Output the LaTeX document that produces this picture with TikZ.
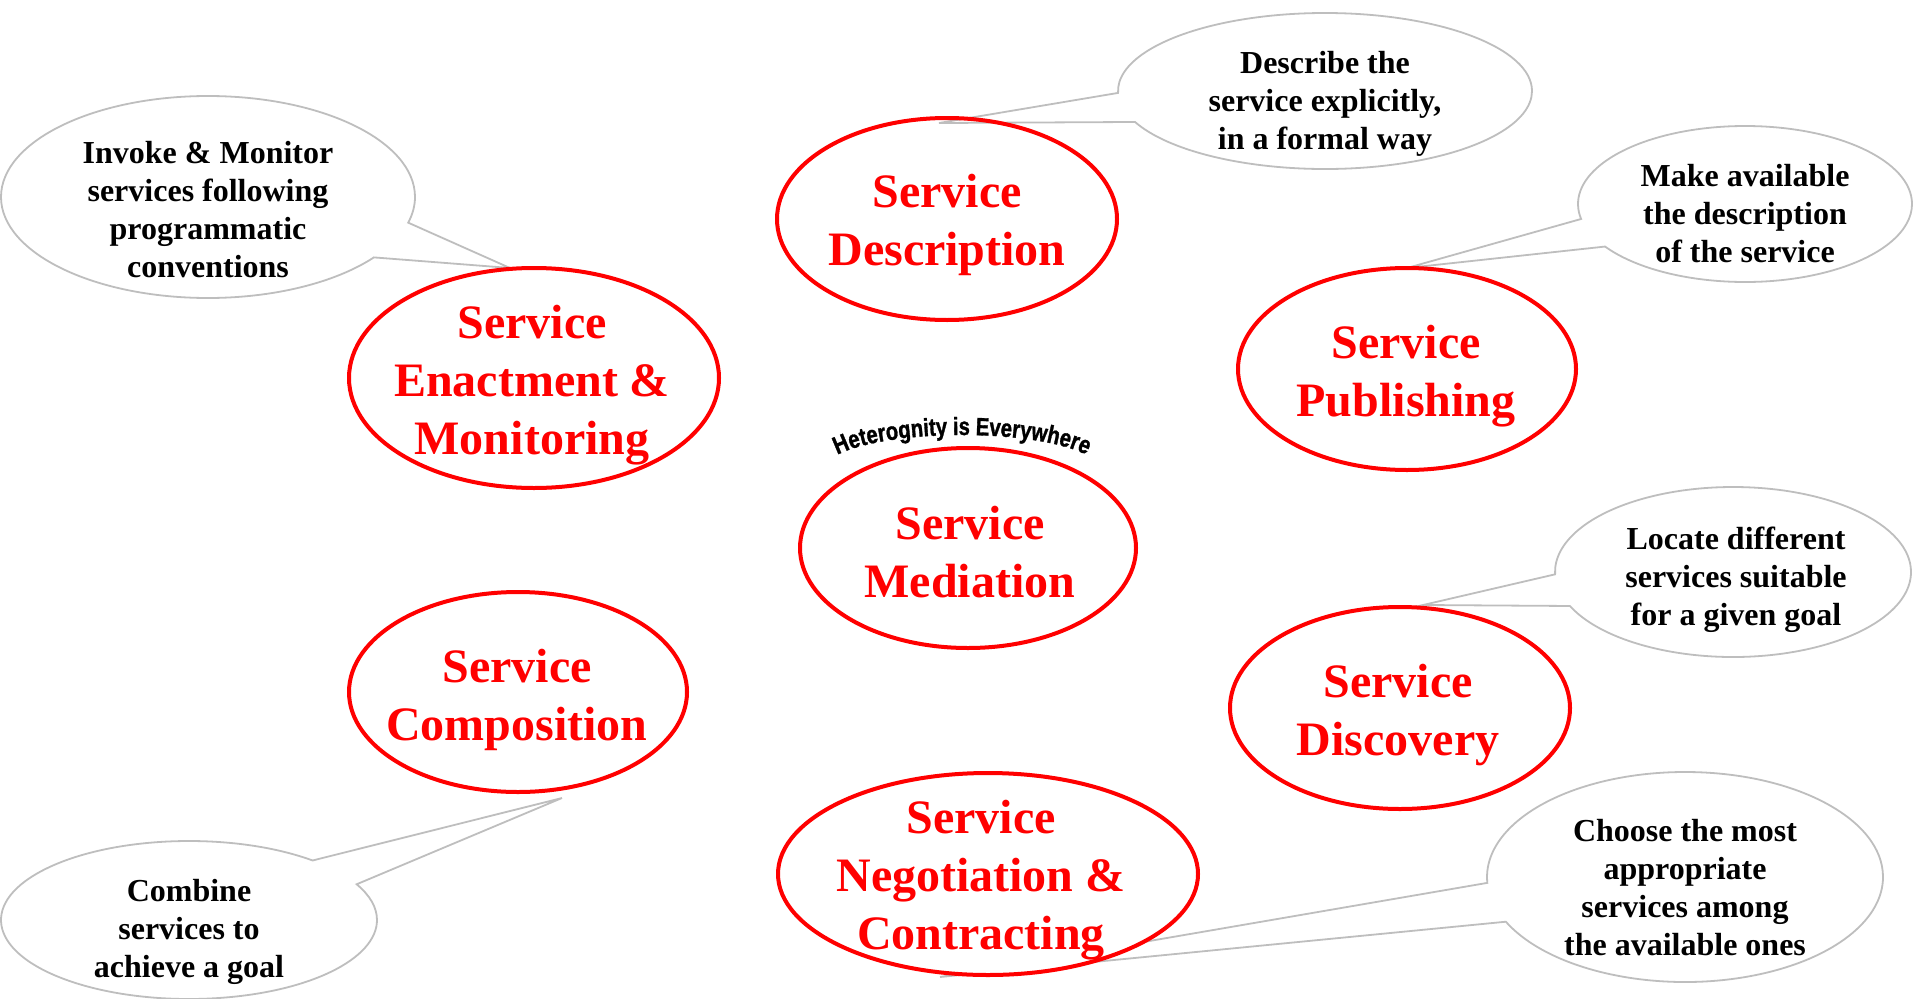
\documentclass[tikz,border=0pt]{standalone}
\usepackage{fontspec}
\setmainfont{Liberation Serif}
\newfontfamily\arcfont{Liberation Sans}[FakeStretch=0.81, FakeBold=1.2, UprightFont=* Bold]
\usetikzlibrary{shapes.geometric,shapes.callouts,calc,decorations.text}
\pgfdeclarelayer{bg}
\pgfsetlayers{bg,main}
\definecolor{ringred}{RGB}{255,0,0}
\definecolor{bubblegray}{RGB}{190,190,190}

\begin{document}
\begin{tikzpicture}[x=1pt,y=-1pt,
  phase/.style={ellipse, draw=ringred, line width=4pt, fill=white, inner sep=0pt, outer sep=0pt},
  phasetext/.style={text=ringred, font=\bfseries\fontsize{48}{58}\selectfont, align=center},
  bubble/.style={ellipse callout, draw=bubblegray, line width=1.8pt, fill=white,
    inner sep=0pt, outer sep=0pt, callout pointer arc=22},
  bubbletext/.style={font=\bfseries\fontsize{32}{38}\selectfont, align=center},
]
\useasboundingbox (0,0) rectangle (1913,998);

% lifecycle phases
\node[phase, fill=none, minimum width=340pt, minimum height=202pt] (desc) at (947,219) {};
\node[phase, minimum width=370pt, minimum height=220pt] (enact) at (534,378) {};
\node[phase, minimum width=336pt, minimum height=200pt] (med) at (968,548) {};
\node[phase, minimum width=338pt, minimum height=202pt] (pub) at (1407,369) {};
\node[phase, minimum width=340pt, minimum height=202pt] (disc) at (1400,708) {};
\node[phase, minimum width=338pt, minimum height=200pt] (comp) at (518,692) {};
\node[phase, minimum width=420pt, minimum height=202pt] (nego) at (988,874) {};

\node[phasetext] (desc-label) at (947,225) {Service\\Description};
\node[phasetext] (enact-label) at (532,385) {Service\\Enactment \&\\Monitoring};
\node[phasetext] (med-label) at (970,552) {Service\\Mediation};
\node[phasetext] (pub-label) at (1406,376) {Service\\Publishing};
\node[phasetext] (disc-label) at (1398,715) {Service\\Discovery};
\node[phasetext] (comp-label) at (517,700) {Service\\Composition};
\node[phasetext] (nego-label) at (981,880) {Service\\Negotiation \&\\Contracting};

% speech bubbles explaining each phase
\begin{pgfonlayer}{bg}
\node[bubble, minimum width=414pt, minimum height=156pt,
  callout absolute pointer={($(desc.north)+(-8,5)$)}] (describe) at (1325,91) {};
\node[bubble, minimum width=414pt, minimum height=202pt,
  callout absolute pointer={($(enact.north)+(-24,0)$)}] (invoke) at (208,197) {};
\node[bubble, minimum width=334pt, minimum height=156pt,
  callout absolute pointer={(pub.north)}] (make) at (1745,204) {};
\node[bubble, minimum width=356pt, minimum height=170pt,
  callout absolute pointer={($(disc.north)+(23,-2)$)}] (locate) at (1733,572) {};
\node[bubble, minimum width=376pt, minimum height=158pt,
  callout absolute pointer={($(comp.south)+(44,6)$)}] (combine) at (189,920) {};
\node[bubble, minimum width=396pt, minimum height=210pt,
  callout absolute pointer={($(nego.south)+(-48,2)$)}] (choose) at (1685,877) {};
\end{pgfonlayer}

\node[bubbletext] (describe-text) at (describe.center) [yshift=-13pt] {Describe the\\service explicitly,\\in a formal way};
\node[bubbletext] (invoke-text) at (invoke.center) [yshift=-13pt] {Invoke \& Monitor\\services following\\programmatic\\conventions};
\node[bubbletext] (make-text) at (make.center) [yshift=-10pt] {Make available\\the description\\of the service};
\node[bubbletext] (locate-text) at (locate.center) [xshift=3pt, yshift=-8pt] {Locate different\\services suitable\\for a given goal};
\node[bubbletext] (combine-text) at (combine.center) [yshift=-12pt] {Combine\\services to\\achieve a goal};
\node[bubbletext] (choose-text) at (choose.center) [yshift=-11pt] {Choose the most\\appropriate\\services among\\the available ones};

% arched caption over the mediation phase, set along a flat elliptic arch
\coordinate (arch-centre) at ($(med.center)+(-6,-78)$);
\path[decorate, decoration={text along path, text align=center,
  text={|\arcfont\fontsize{25}{25}\selectfont|Heterognity is Everywhere}}]
  ($(arch-centre)+(-166:138 and 35)$)
  arc[start angle=-166, end angle=-14, x radius=138, y radius=35];
\end{tikzpicture}
\end{document}
